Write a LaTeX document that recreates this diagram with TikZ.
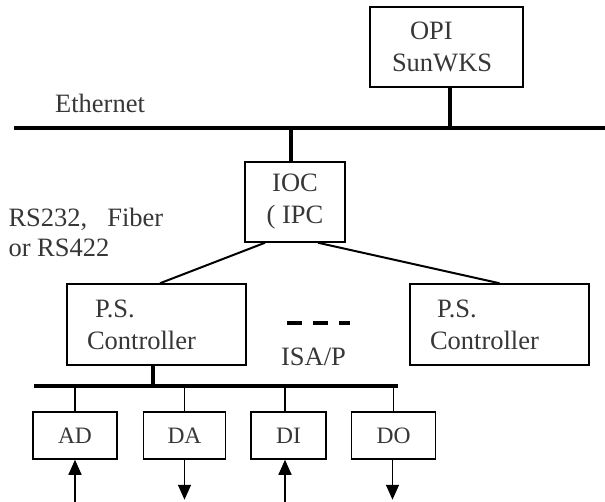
\documentclass[tikz,border=0pt]{standalone}
\usepackage{fontspec}
\setmainfont{Liberation Serif}
\usetikzlibrary{arrows.meta}
\usetikzlibrary{positioning}
\usetikzlibrary{calc}
\definecolor{txtgray}{RGB}{55,55,55}

\begin{document}
\begin{tikzpicture}[
        x=1pt, y=-1pt,
        every node/.style={text=txtgray, font=\fontsize{26.5}{32}\selectfont},
        box/.style = {draw=black, line width=1.5pt, rectangle, inner ysep=0pt},
        ctrl/.style = {box, align=left, text width=139pt, inner xsep=20pt, minimum height=81pt},
        io/.style = {draw=black, line width=1.5pt, inner sep=0pt, minimum height=47pt,
                     font=\fontsize{23.5}{28}\selectfont},
        bus/.style = {line width=3.5pt},
        link/.style = {line width=2pt},
        tap/.style = {line width=1.2pt},
        sig/.style = {line width=1.5pt, -{Triangle[length=15pt,width=13pt]}}
        ]
        \useasboundingbox (0,0) rectangle (605,502);
        \node[box, align=left, text width=109pt, inner xsep=22pt, minimum height=80pt] (OPI) at (446.5,47) {\hspace*{18pt}OPI\\SunWKS};
        \node (Eth) at (100,103) {Ethernet};
        \coordinate (EthL) at (14,128);
        \coordinate (EthR) at (605,128);
        \node[box, align=center, minimum width=100pt, minimum height=80pt] (IOC) at (295,202) {IOC\\( IPC};
        \node[align=left, anchor=west, font=\fontsize{26.5}{30}\selectfont] (RS) at (5,232) {RS232,\hspace{20pt}Fiber\\or RS422};
        \node[ctrl] (PSA) at (156.5,324.5) {\hspace*{8pt}P.S.\\Controller};
        \node[ctrl] (PSB) at (499.5,324.5) {\hspace*{7pt}P.S.\\Controller};
        \coordinate (DotsL) at (287,323);
        \coordinate (DotsR) at (350,323);
        \node (ISA) at (313.5,357) {ISA/P};
        \coordinate (BusL) at (34,386);
        \coordinate (BusR) at (398,386);
        \node[io, minimum width=84pt] (AD) at (75,435.5) {AD};
        \node[io, minimum width=82pt, right=25pt of AD] (DA) {DA};
        \node[io, minimum width=75pt, right=24pt of DA] (DI) {DI};
        \node[io, minimum width=84pt, right=24pt of DI] (DO) {DO};

        \draw[bus] (EthL) -- (EthR);
        \draw[bus] ([xshift=3.5pt]OPI.south) -- ([xshift=3.5pt]OPI.south |- EthL);
        \draw[bus] ([xshift=-4pt]IOC.north) -- ([xshift=-4pt]IOC.north |- EthL);
        \draw[link] ([xshift=-30pt]IOC.south) -- ([xshift=3.5pt]PSA.north);
        \draw[link] ([xshift=23pt]IOC.south) -- (PSB.north);
        \draw[line width=4pt, dash pattern=on 15pt off 11pt] (DotsL) -- (DotsR);
        \draw[bus] (BusL) -- (BusR);
        \draw[bus] ([xshift=-3.5pt]PSA.south) -- ([xshift=-3.5pt]PSA.south |- BusL);
        \draw[tap] (AD.north) -- (AD.north |- BusL);
        \draw[tap] (DA.north) -- (DA.north |- BusL);
        \draw[tap] ([xshift=-3.5pt]DI.north) -- ([xshift=-3.5pt]DI.north |- BusL);
        \draw[tap] (DO.north) -- (DO.north |- BusL);
        %\draw[sig] (AD.south) -- ($(AD.south)+(0,43)$);
        \draw[sig] ($(AD.south)+(0,43)$) -- (AD.south);
        \draw[sig] (DA.south) -- ($(DA.south)+(0,40)$);
        \draw[sig] ($([xshift=-3.5pt]DI.south)+(0,43)$) -- ([xshift=-3.5pt]DI.south);
        \draw[sig] ([xshift=-1pt]DO.south) -- ($([xshift=-1pt]DO.south)+(0,40)$);
\end{tikzpicture}
\end{document}
